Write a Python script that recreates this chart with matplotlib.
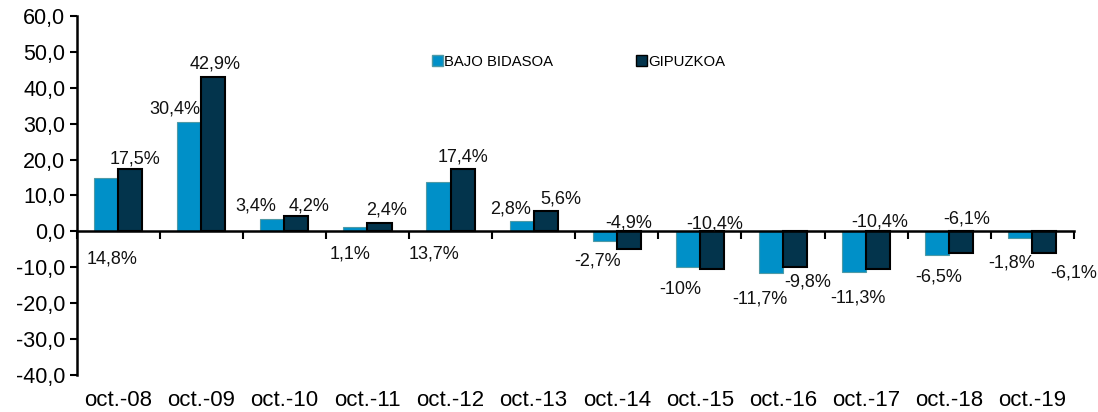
import numpy as np
import matplotlib.pyplot as plt
from matplotlib.patches import Patch

plt.rcParams['font.family'] = ['Liberation Sans', 'DejaVu Sans']

# datos
periodos = ['oct.-08', 'oct.-09', 'oct.-10', 'oct.-11', 'oct.-12', 'oct.-13',
            'oct.-14', 'oct.-15', 'oct.-16', 'oct.-17', 'oct.-18', 'oct.-19']
bajo_bidasoa = [14.8, 30.4, 3.4, 1.1, 13.7, 2.8, -2.7, -10.0, -11.7, -11.3, -6.5, -1.8]
gipuzkoa = [17.5, 42.9, 4.2, 2.4, 17.4, 5.6, -4.9, -10.4, -9.8, -10.4, -6.1, -6.1]
etiquetas_bb = ['14,8%', '30,4%', '3,4%', '1,1%', '13,7%', '2,8%',
                '-2,7%', '-10%', '-11,7%', '-11,3%', '-6,5%', '-1,8%']
etiquetas_gi = ['17,5%', '42,9%', '4,2%', '2,4%', '17,4%', '5,6%',
                '-4,9%', '-10,4%', '-9,8%', '-10,4%', '-6,1%', '-6,1%']

# desplazamiento de las etiquetas (pixeles) respecto al extremo de la barra
desp_bb = [(6, -81), (-14, 13), (-16, 13), (-5, -27), (-4, -72), (-11, 12),
           (-7, -20), (-8, -22), (-11, -26), (4, -26), (2, -22), (-9, -25)]
desp_gi = [(5, 10), (2, 13), (13, 10), (7, 13), (0, 12), (15, 12),
           (0, 26), (3, 45), (13, -15), (2, 47), (5, 34), (29, -20)]

c_bb = '#0090c8'
c_gi = '#03344c'

fig = plt.figure(figsize=(10.98, 4.12), dpi=100)
ax = fig.add_axes([0.0697, 0.0898, 0.9083, 0.8714])

x = np.arange(len(periodos))
w = 0.29
b1 = ax.bar(x - w / 2, bajo_bidasoa, w, color=c_bb, edgecolor='#4f9aa6', linewidth=0.8, zorder=2)
b2 = ax.bar(x + w / 2, gipuzkoa, w, color=c_gi, edgecolor='black', linewidth=1.5, zorder=2)

for rect, txt, (dx, dy) in zip(b1, etiquetas_bb, desp_bb):
    ax.annotate(txt, (rect.get_x() + rect.get_width() / 2, rect.get_height()),
                xytext=(dx, dy), textcoords='offset pixels',
                ha='center', va='center', fontsize=13, color='#111111')
for rect, txt, (dx, dy) in zip(b2, etiquetas_gi, desp_gi):
    ax.annotate(txt, (rect.get_x() + rect.get_width() / 2, rect.get_height()),
                xytext=(dx, dy), textcoords='offset pixels',
                ha='center', va='center', fontsize=13, color='#111111')

ax.set_xlim(-0.5, len(periodos) - 0.5)
ax.set_ylim(-40, 60)
ax.set_yticks(np.arange(-40, 61, 10))
ax.set_yticklabels([f'{v:.1f}'.replace('.', ',') for v in np.arange(-40, 61, 10)])
ax.tick_params(axis='y', direction='out', length=5, width=1.5, labelsize=15.5, pad=3)

# eje x en el cero, marcas entre categorias
ax.spines['bottom'].set_position(('data', 0))
ax.spines['bottom'].set_linewidth(1.8)
ax.spines['left'].set_linewidth(1.8)
ax.spines['top'].set_visible(False)
ax.spines['right'].set_visible(False)
ax.set_xticks(np.arange(len(periodos) + 1) - 0.5)
ax.set_xticklabels([])
ax.tick_params(axis='x', which='major', direction='out', length=6, width=1.5)
ax.set_xticks(x, minor=True)
ax.set_xticklabels(periodos, minor=True)
ax.tick_params(axis='x', which='minor', length=0, labelsize=16, pad=114)

handles = [Patch(facecolor=c_bb, edgecolor='#4f9aa6', label='BAJO BIDASOA'),
           Patch(facecolor=c_gi, edgecolor='black', label='GIPUZKOA')]
fig.legend(handles=handles, loc='center', bbox_to_anchor=(0.527, 0.85), ncol=2,
           frameon=False, fontsize=10.7, handlelength=0.7, handleheight=0.7,
           handletextpad=0.1, columnspacing=5.6)

fig.savefig('out.png', dpi=100)
